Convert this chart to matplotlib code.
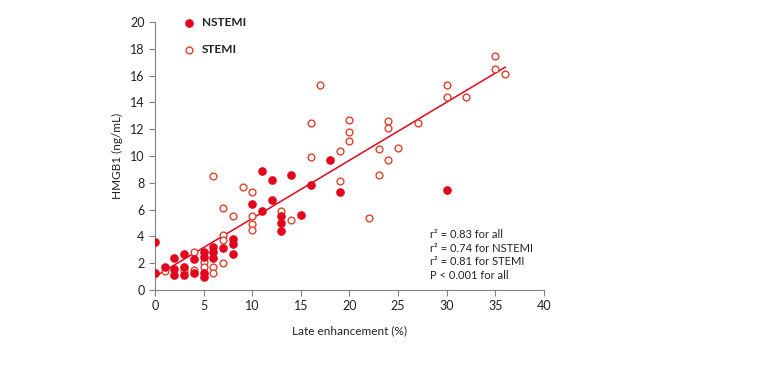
import numpy as np
import matplotlib
matplotlib.use("Agg")
import matplotlib.pyplot as plt

plt.rcParams['font.family'] = ['Lato', 'DejaVu Sans']

# [1. data]
nstemi_x = [0, 0, 1, 2, 2, 2, 3, 3, 3, 4, 4, 5, 5, 5, 5, 6, 6, 6, 7, 8, 8, 8,
            10, 11, 11, 12, 12, 13, 13, 13, 14, 15, 16, 18, 19, 30]
nstemi_y = [3.6, 1.3, 1.7, 2.4, 1.6, 1.1, 2.7, 1.7, 1.1, 2.3, 1.3, 2.8, 2.5, 1.3, 1.0,
            3.2, 2.8, 2.4, 3.1, 3.8, 3.4, 2.7,
            6.4, 8.9, 5.9, 8.2, 6.7, 5.5, 5.0, 4.4, 8.6, 5.6, 7.8, 9.7, 7.3, 7.5]

stemi_x = [0, 1, 3, 4, 4, 5, 5, 6, 6, 6, 7, 7, 7, 7, 8, 9, 10, 10, 10, 10, 13, 14,
           16, 16, 17, 19, 19, 20, 20, 20, 22, 23, 23, 24, 24, 24, 25, 27,
           30, 30, 32, 35, 35, 36]
stemi_y = [1.3, 1.4, 1.4, 2.8, 1.5, 2.1, 1.7, 8.5, 1.7, 1.3, 6.1, 4.1, 3.7, 2.0, 5.5, 7.7,
           7.3, 5.5, 4.9, 4.5, 5.9, 5.2,
           12.5, 9.9, 15.3, 10.4, 8.1, 12.7, 11.8, 11.1, 5.4, 10.5, 8.6, 12.6, 12.1, 9.7,
           10.6, 12.5, 15.3, 14.4, 14.4, 17.5, 16.5, 16.1]

# regression line as printed (all patients)
fit_intercept = 1.0
fit_slope = 0.434
fit_x = [0, 36]

stats_lines = ["r\u00b2 = 0.83 for all", "r\u00b2 = 0.74 for NSTEMI",
               "r\u00b2 = 0.81 for STEMI", "P < 0.001 for all"]

RED = '#e3051b'
OPEN_RED = '#e2402c'

# [2. figure]
fig = plt.figure(figsize=(7.68, 3.67), dpi=100)
ax = fig.add_axes([0.2018, 0.2098, 0.5065, 0.7302])

ax.scatter(stemi_x, stemi_y, s=24, facecolors='white', edgecolors=OPEN_RED,
           linewidths=1.0, zorder=3, label='STEMI')
ax.scatter(nstemi_x, nstemi_y, s=27, color=RED, edgecolors=RED, zorder=4, label='NSTEMI')

xs = np.array(fit_x, dtype=float)
ax.plot(xs, fit_intercept + fit_slope * xs, color=RED, lw=1.1, zorder=2)

ax.set_xlim(0, 40)
ax.set_ylim(0, 20)
ax.set_xticks(range(0, 41, 5))
ax.set_yticks(range(0, 21, 2))
for s in ['top', 'right']:
    ax.spines[s].set_visible(False)
for s in ['left', 'bottom']:
    ax.spines[s].set_color('#808080')
    ax.spines[s].set_linewidth(0.8)
ax.tick_params(colors='#808080', labelcolor='#222222', labelsize=9, length=4, width=0.8)

ax.set_xlabel('Late enhancement (%)', fontsize=8.5, color='#222222', labelpad=9)
ax.set_ylabel('HMGB1 (ng/mL)', fontsize=8.5, color='#222222', labelpad=5)

handles, labels = ax.get_legend_handles_labels()
leg = ax.legend(handles[::-1], labels[::-1], loc='upper left', bbox_to_anchor=(0.045, 1.035),
                frameon=False, labelspacing=1.3, handletextpad=0.1, fontsize=8.5,
                borderaxespad=0)
for t in leg.get_texts():
    t.set_fontweight('bold')
    t.set_color('#222222')

ax.text(28.3, 4.55, "\n".join(stats_lines), fontsize=8, color='#222222',
        va='top', ha='left', linespacing=1.3)

plt.savefig('out.png', dpi=100)
plt.close()
